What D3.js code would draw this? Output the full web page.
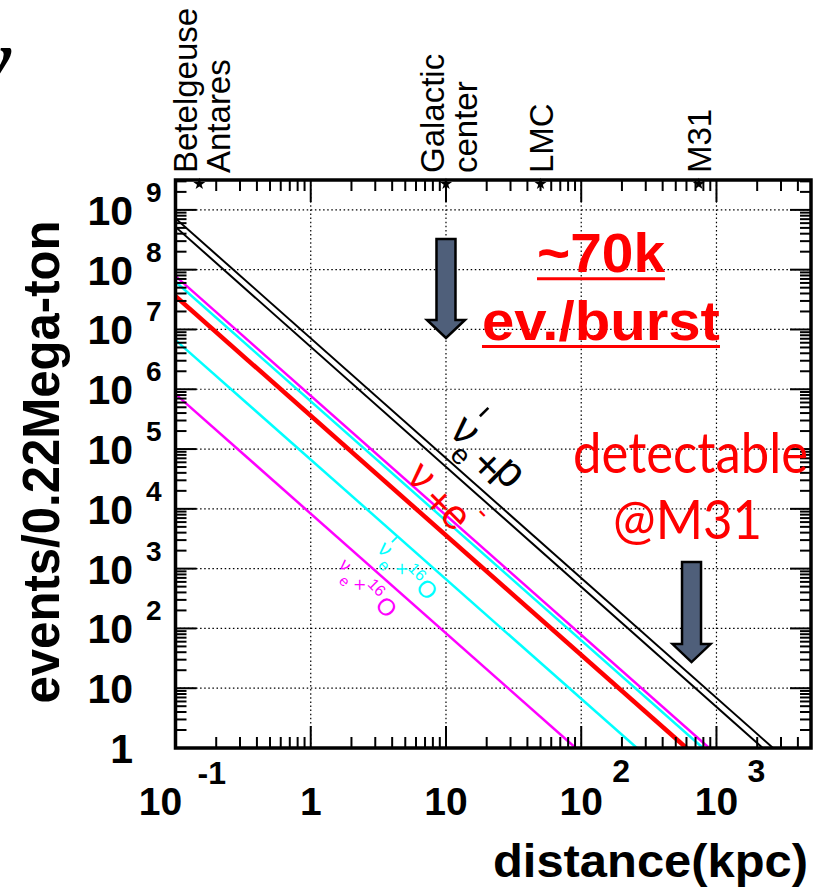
<!DOCTYPE html>
<html>
<head>
<meta charset="utf-8">
<script src="https://cdn.jsdelivr.net/npm/d3@7"></script>
<style>
  body { margin: 0; background: #fff; }
  svg { display: block; }
</style>
</head>
<body>
<svg id="chart"></svg>
<script>
// each line: value at the left edge (0.1 kpc) and the distance where it falls to 1 event
const seriesNames = ['nuebar_p_a', 'nuebar_p_b', 'nu_e_a', 'nu_e_b', 'nu_e', 'nuebar_O', 'nue_O']
const seriesDist = [[0.1, 2620], [0.1, 2200], [0.1, 883], [0.1, 794], [0.1, 600], [0.1, 258], [0.1, 91]]
const seriesEvents = [[7.2e8, 1], [5.2e8, 1], [7.8e7, 1], [6.3e7, 1], [3.6e7, 1], [6.65e6, 1], [8.3e5, 1]]

const sourceNames = [['Betelgeuse', 'Antares'], ['Galactic', 'center'], ['LMC'], ['M31']]
const sourceDist = [0.15, 10, 50, 740]

const xTickValues = [0.1, 1, 10, 100, 1000]
const xTickLabels = [['10', '-1'], ['1', ''], ['10', ''], ['10', '2'], ['10', '3']]
const yTickValues = [1, 10, 1e2, 1e3, 1e4, 1e5, 1e6, 1e7, 1e8, 1e9]
const yTickLabels = [['1', ''], ['10', ''], ['10', '2'], ['10', '3'], ['10', '4'], ['10', '5'], ['10', '6'], ['10', '7'], ['10', '8'], ['10', '9']]

// arrows: distance, top of shaft, tip (events)
const arrowDist = [10, 654]
const arrowTop = [3.26e8, 1290]
const arrowTip = [7.2e6, 27.4]

// text anchors in data units
const noteDist = [140, 140, 643, 611]
const noteEvents = [9.1e7, 6.67e6, 3.97e4, 3.13e3]
const labelDist = [13.5, 6.45, 3.49, 1.78]
const labelEvents = [1.89e5, 3.28e4, 2.05e3, 1.11e3]

const W = 832, H = 888
const styles = {
  nuebar_p_a: ['black', 2], nuebar_p_b: ['black', 2],
  nu_e_a: ['#ff00ff', 2.5], nu_e_b: ['#00ffff', 2.5], nu_e: ['#ff0000', 4.5],
  nuebar_O: ['#00ffff', 2.5], nue_O: ['#ff00ff', 2.5],
}
const sans = '"Liberation Sans", Arial, Helvetica, sans-serif'

const svg = d3.select('#chart').attr('width', W).attr('height', H)

const x = d3.scaleLog().domain([0.1, 5000]).range([175.5, 811])
const y = d3.scaleLog().domain([1, 3.162e9]).range([748, 180])
const [x0, x1] = x.range()
const [y0, y1] = y.range()

// clip for the curves
svg.append('defs').append('clipPath').attr('id', 'clip')
  .append('rect').attr('x', x0).attr('y', y1).attr('width', x1 - x0).attr('height', y0 - y1)

// grid
const grid = svg.append('g').attr('stroke', 'black').attr('stroke-width', 1.2).attr('stroke-dasharray', '1.5,2.6')
grid.selectAll('.gx').data(xTickValues.slice(1)).enter().append('line')
  .attr('x1', (d) => x(d)).attr('x2', (d) => x(d)).attr('y1', y0).attr('y2', y1)
grid.selectAll('.gy').data(yTickValues.slice(1)).enter().append('line')
  .attr('y1', (d) => y(d)).attr('y2', (d) => y(d)).attr('x1', x0).attr('x2', x1)

// curves
const line = d3.line().x((d) => x(d[0])).y((d) => y(d[1]))
const body = svg.append('g').attr('clip-path', 'url(#clip)')
seriesNames.forEach((name, i) => {
  const pts = seriesDist[i].map((d, j) => [d, seriesEvents[i][j]])
  body.append('path').datum(pts)
    .attr('fill', 'none')
    .attr('stroke', styles[name][0])
    .attr('stroke-width', styles[name][1])
    .attr('d', line)
})

// ticks on all four sides
const isMajor = (v) => Math.abs(Math.log10(v) - Math.round(Math.log10(v))) < 1e-6
const ticks = svg.append('g').attr('stroke', 'black').attr('stroke-width', 2)
const xt = x.ticks().filter((v) => v > 0.1 && v < 5000)
const yt = y.ticks().filter((v) => v > 1 && v < 3.162e9)
xt.forEach((v) => {
  const len = isMajor(v) ? 22 : 11
  ticks.append('line').attr('x1', x(v)).attr('x2', x(v)).attr('y1', y0).attr('y2', y0 - len)
  ticks.append('line').attr('x1', x(v)).attr('x2', x(v)).attr('y1', y1).attr('y2', y1 + len)
})
yt.forEach((v) => {
  const len = isMajor(v) ? 21 : 11
  ticks.append('line').attr('y1', y(v)).attr('y2', y(v)).attr('x1', x0).attr('x2', x0 + len)
  ticks.append('line').attr('y1', y(v)).attr('y2', y(v)).attr('x1', x1).attr('x2', x1 - len)
})

// frame
svg.append('rect').attr('x', x0).attr('y', y1).attr('width', x1 - x0).attr('height', y0 - y1)
  .attr('fill', 'none').attr('stroke', 'black').attr('stroke-width', 3.5)

// tick labels
const xl = svg.append('g').attr('font-family', sans).attr('font-weight', 'bold').attr('fill', 'black')
xTickValues.forEach((v, i) => {
  const [base, exp] = xTickLabels[i]
  const cx = x(v) + (v < 1 ? -15 : 0)
  xl.append('text').attr('x', cx).attr('y', 815).attr('text-anchor', 'middle')
    .attr('font-size', 39).text(base)
  if (exp) {
    xl.append('text').attr('x', cx + (v < 1 ? 37 : 31)).attr('y', v < 1 ? 784 : 782)
      .attr('font-size', 32).text(exp)
  }
})
const yl = svg.append('g').attr('font-family', sans).attr('font-weight', 'bold').attr('fill', 'black')
yTickValues.forEach((v, i) => {
  const [base, exp] = yTickLabels[i]
  yl.append('text').attr('x', 133).attr('y', y(v) + 15).attr('text-anchor', 'end')
    .attr('font-size', 41).text(base)
  if (exp) {
    yl.append('text').attr('x', 146).attr('y', y(v) - 8).attr('font-size', 28).text(exp)
  }
})

// axis titles
svg.append('text')
  .attr('transform', `translate(59,${(y0 + y1) / 2 - 2}) rotate(-90)`)
  .attr('text-anchor', 'middle').attr('font-family', sans).attr('font-weight', 'bold')
  .attr('font-size', 52).attr('textLength', 483).attr('lengthAdjust', 'spacingAndGlyphs')
  .text('events/0.22Mega-ton')
svg.append('text').attr('x', 808).attr('y', 877).attr('text-anchor', 'end')
  .attr('font-family', sans).attr('font-weight', 'bold').attr('font-size', 46)
  .attr('textLength', 315).attr('lengthAdjust', 'spacingAndGlyphs')
  .text('distance(kpc)')

// sources on the top axis
const star = d3.symbol(d3.symbolStar).size(45)
sourceNames.forEach((names, i) => {
  const sx = x(sourceDist[i])
  svg.append('path').attr('d', star).attr('transform', `translate(${sx},${y1 + 4})`).attr('fill', 'black')
  const offs = names.length === 1 ? [12] : [-2, 31]
  names.forEach((n, j) => {
    svg.append('text')
      .attr('transform', `translate(${sx + offs[j]},173) rotate(-90)`)
      .attr('font-family', sans).attr('font-size', 33).text(n)
  })
})

// arrows
arrowDist.forEach((d, i) => {
  const cx = x(d), top = y(arrowTop[i]), tip = y(arrowTip[i])
  const hw = 9.5, HW = 19, hl = 18
  const pts = [[cx - hw, top], [cx + hw, top], [cx + hw, tip - hl], [cx + HW, tip - hl],
    [cx, tip], [cx - HW, tip - hl], [cx - hw, tip - hl]]
  svg.append('path').attr('d', 'M' + pts.join('L') + 'Z')
    .attr('fill', '#4f5f7a').attr('stroke', 'black').attr('stroke-width', 2.5)
})

// red notes
const notes = [
  ['~70k', sans, 'bold', 56, 128, true],
  ['ev./burst', sans, 'bold', 56, 238, true],
  ['detectable', 'Lato, "Open Sans", sans-serif', 'normal', 56, 235, false],
  ['@M31', 'Lato, "Open Sans", sans-serif', 'normal', 54, 149, false],
]
notes.forEach(([t, fam, wt, fs, len, ul], i) => {
  const cx = x(noteDist[i]), by = y(noteEvents[i])
  svg.append('text').attr('x', cx).attr('y', by).attr('text-anchor', 'middle')
    .attr('font-family', fam).attr('font-weight', wt).attr('font-size', fs)
    .attr('textLength', len).attr('lengthAdjust', 'spacingAndGlyphs')
    .attr('fill', '#ff0000').text(t)
  if (ul) {
    svg.append('line').attr('x1', cx - len / 2).attr('x2', cx + len / 2)
      .attr('y1', by + 6.5).attr('y2', by + 6.5).attr('stroke', '#ff0000').attr('stroke-width', 3)
  }
})

// labels along the lines: [char, dx, dy (glyph centre), size, centre height]
const labelPieces = [
  [['ν', 0, 0, 44, 0.26], ['e', 14, 20, 28, 0.26], ['+', 40, 6, 44, 0.34], ['p', 61, 2, 44, 0.155]],
  [['ν', 0, 0, 42, 0.26], ['+', 30, 3.5, 42, 0.34], ['e', 52, 4, 42, 0.26], ['-', 69, -19, 28, 0.27]],
  [['ν', 0, 0, 22, 0.26], ['e', 11, 12, 16, 0.26], ['×', 26, 1, 19, 0.33], ['16', 39, -8.5, 16, 0.36], ['O', 58, -3, 24, 0.36]],
  [['ν', 0, 0, 18, 0.26], ['e', 10.6, 12, 15, 0.26], ['×', 24, 2.8, 18, 0.33], ['16', 38, -8, 16, 0.36], ['O', 58.7, -1, 24, 0.36]],
]
const labelColors = ['black', '#ff0000', '#00ffff', '#ff00ff']
const labelBars = [[0, -35, -23, 2.5], [], [0, -18.5, -11, 1.8], []]
labelPieces.forEach((pieces, i) => {
  const g = svg.append('g')
    .attr('transform', `translate(${x(labelDist[i])},${y(labelEvents[i])}) rotate(45)`)
    .attr('fill', labelColors[i]).attr('font-family', sans)
  pieces.forEach(([c, dx, dy, fs, h]) => {
    g.append('text').attr('x', dx).attr('y', dy + h * fs).attr('text-anchor', 'middle')
      .attr('font-size', fs).text(c)
  })
  const b = labelBars[i]
  if (b.length) {
    g.append('line').attr('x1', b[0]).attr('x2', b[0]).attr('y1', b[1]).attr('y2', b[2])
      .attr('stroke', labelColors[i]).attr('stroke-width', b[3])
  }
})

// cut-off glyph from the slide title at the top left
svg.append('text').attr('x', -33).attr('y', 94)
  .attr('font-family', '"Liberation Serif", "DejaVu Serif", serif').attr('font-style', 'italic')
  .attr('font-size', 100).text('ν')
</script>
</body>
</html>
